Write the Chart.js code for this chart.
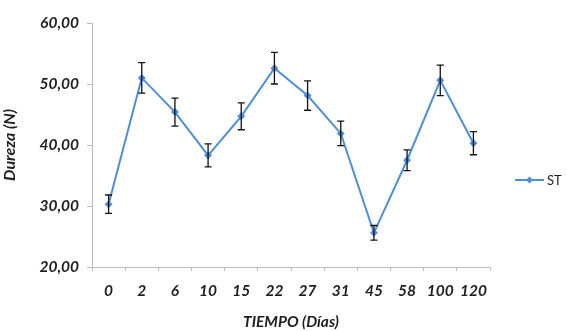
<!DOCTYPE html>
<html><head><meta charset="utf-8">
<script src="https://cdn.jsdelivr.net/npm/chart.js@4/dist/chart.umd.min.js"></script>
<style>html,body{margin:0;padding:0;background:#fff}#w{width:567px;height:331px}</style>
</head><body><div id="w"><canvas id="c"></canvas></div>
<script>
const categories = ['0','2','6','10','15','22','27','31','45','58','100','120'];
const stValues = [30.3, 51.0, 45.4, 38.3, 44.7, 52.6, 48.1, 41.9, 25.6, 37.5, 50.6, 40.3];
const stErrors = [1.5, 2.5, 2.3, 1.9, 2.2, 2.6, 2.4, 2.0, 1.2, 1.7, 2.5, 1.9];
const yTicks = [20, 30, 40, 50, 60];
const seriesName = 'ST';
const xTitle = 'TIEMPO (Días)';
const yTitle = 'Dureza (N)';

const FONT = 'Lato, "Open Sans", sans-serif';
const BLUE = '#4f8fd6';
const TXT = '#1f1f1f';

const errorBars = {
  id: 'errorBars',
  afterDatasetsDraw(chart) {
    const ctx = chart.ctx, y = chart.scales.y;
    const meta = chart.getDatasetMeta(0);
    ctx.save();
    ctx.strokeStyle = '#111';
    ctx.lineWidth = 1.3;
    meta.data.forEach((pt, i) => {
      const v = stValues[i], e = stErrors[i];
      const yt = y.getPixelForValue(v + e), yb = y.getPixelForValue(v - e);
      const x = pt.x;
      ctx.beginPath();
      ctx.moveTo(x, yt); ctx.lineTo(x, yb);
      ctx.moveTo(x - 3.5, yt); ctx.lineTo(x + 3.5, yt);
      ctx.moveTo(x - 3.5, yb); ctx.lineTo(x + 3.5, yb);
      ctx.stroke();
    });
    ctx.restore();
  }
};

const customLegend = {
  id: 'customLegend',
  afterDraw(chart) {
    const ctx = chart.ctx, a = chart.chartArea;
    const cy = (a.top + a.bottom) / 2 + 35;
    const x0 = 515, x1 = 544;
    ctx.save();
    ctx.strokeStyle = BLUE; ctx.lineWidth = 2;
    ctx.beginPath(); ctx.moveTo(x0, cy); ctx.lineTo(x1, cy); ctx.stroke();
    ctx.fillStyle = BLUE;
    const mx = (x0 + x1) / 2, r = 3.5;
    ctx.beginPath(); ctx.moveTo(mx, cy - r); ctx.lineTo(mx + r, cy); ctx.lineTo(mx, cy + r); ctx.lineTo(mx - r, cy); ctx.closePath(); ctx.fill();
    ctx.fillStyle = TXT; ctx.font = '13px ' + FONT; ctx.textBaseline = 'middle';
    ctx.fillText(chart.data.datasets[0].label, x1 + 3, cy + 1);
    ctx.restore();
  }
};

new Chart(document.getElementById('c'), {
  type: 'line',
  data: {
    labels: categories,
    datasets: [{
      label: seriesName,
      data: stValues,
      borderColor: BLUE,
      backgroundColor: BLUE,
      borderWidth: 2,
      pointStyle: 'rectRot',
      pointRadius: 4,
      pointBorderWidth: 0,
      tension: 0
    }]
  },
  options: {
    responsive: true,
    maintainAspectRatio: false,
    animation: false,
    devicePixelRatio: 1,
    layout: { padding: { top: 23, right: 77, left: 0, bottom: 0 } },
    plugins: { legend: { display: false }, tooltip: { enabled: false } },
    scales: {
      x: {
        offset: true,
        grid: { display: true, drawOnChartArea: false, drawTicks: true, tickLength: 4, offset: true, color: '#bdbdbd' },
        border: { color: '#bdbdbd', width: 1 },
        ticks: { color: TXT, font: { family: FONT, size: 15.5, weight: 'bold', style: 'italic' }, padding: 11, maxRotation: 0, autoSkip: false },
        title: { display: true, text: xTitle, color: TXT, font: { family: FONT, size: 15.5, weight: 'bold', style: 'italic' }, padding: { top: 8, bottom: 0 } },
        afterFit(s) { s.height = 64; }
      },
      y: {
        min: 20, max: 60,
        afterBuildTicks(s) { s.ticks = yTicks.map(v => ({ value: v })); },
        grid: { display: true, drawOnChartArea: false, drawTicks: true, tickLength: 5, color: '#bdbdbd' },
        border: { color: '#bdbdbd', width: 1 },
        ticks: { color: TXT, font: { family: FONT, size: 15.5, weight: 'bold', style: 'italic' }, padding: 8,
          callback: v => Number(v).toFixed(2).replace('.', ',') },
        title: { display: true, text: yTitle, color: TXT, font: { family: FONT, size: 16, weight: 'bold', style: 'italic' }, padding: { top: 0, bottom: 2 } },
        afterFit(s) { s.width = 92; }
      }
    }
  },
  plugins: [errorBars, customLegend]
});
</script>
</body></html>
